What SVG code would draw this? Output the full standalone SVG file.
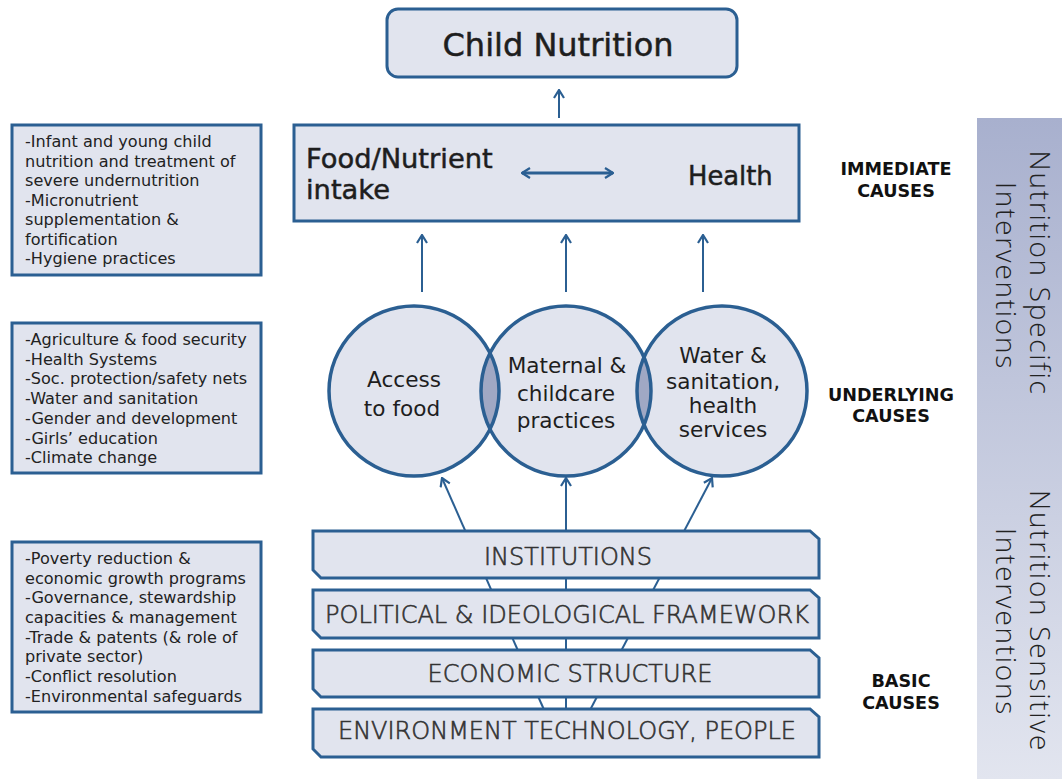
<svg xmlns="http://www.w3.org/2000/svg" width="1062" height="779" viewBox="0 0 1062 779">
<defs>
<style>
.box{fill:#e1e4ee;stroke:#2b5f92;stroke-width:3}
.lens{fill:#a0a8c4;stroke:none}
.circ{fill:none;stroke:#2b5f92;stroke-width:3.5}
.t{font-family:"DejaVu Sans",sans-serif;fill:#1e1e1e;stroke:#1e1e1e;stroke-width:0.5}
.side{font-family:"DejaVu Sans",sans-serif;font-size:16.1px;fill:#222}
.bar{font-family:"DejaVu Sans",sans-serif;font-size:24px;font-weight:200;fill:#333;stroke:#333;stroke-width:0.6;text-anchor:middle}
.ctext{font-family:"DejaVu Sans",sans-serif;font-size:21.6px;fill:#1e1e1e;text-anchor:middle}
.lab{font-family:"DejaVu Sans",sans-serif;font-size:17.6px;font-weight:bold;fill:#111;text-anchor:middle}
.band{font-family:"Open Sans",sans-serif;font-size:28px;font-weight:300;letter-spacing:1.7px;fill:#222;text-anchor:middle}
.conn{stroke:#2b5f92;fill:none}
</style>
<linearGradient id="bandg" x1="0" y1="0" x2="0" y2="1">
<stop offset="0" stop-color="#a8b0ce"/>
<stop offset="1" stop-color="#e2e5ef"/>
</linearGradient>
<marker id="ah" viewBox="0 0 12 12" refX="11" refY="6" markerWidth="12" markerHeight="12" markerUnits="userSpaceOnUse" orient="auto-start-reverse">
<path d="M3 1 L11 6 L3 11" fill="none" stroke="#2b5f92" stroke-width="2.2"/>
</marker>
</defs>

<rect x="977" y="118" width="85" height="661" fill="url(#bandg)"/>
<g id="band-text">
<text class="band" transform="translate(1030,273) rotate(90)">Nutrition Specific</text>
<text class="band" transform="translate(996,276) rotate(90)">Interventions</text>
<text class="band" transform="translate(1030,621) rotate(90)">Nutrition Sensitive</text>
<text class="band" transform="translate(996,622) rotate(90)">Interventions</text>
</g>

<g id="child-nutrition">
<rect class="box" x="387" y="9" width="350" height="68" rx="11"/>
<text class="t" x="558" y="56" font-size="32" text-anchor="middle">Child Nutrition</text>
</g>

<g id="immediate">
<rect class="box" x="294" y="125" width="505" height="96"/>
<text class="t" x="306" y="168" font-size="27.3">Food/Nutrient</text>
<text class="t" x="306" y="199" font-size="27.3">intake</text>
<text class="t" x="688" y="185" font-size="25.8">Health</text>
</g>

<g id="connectors">
<line class="conn" x1="559" y1="118" x2="559" y2="90" stroke-width="2" marker-end="url(#ah)"/>
<line class="conn" x1="522" y1="173" x2="613" y2="173" stroke-width="3" marker-start="url(#ah)" marker-end="url(#ah)"/>
<line class="conn" x1="422" y1="292" x2="422" y2="235" stroke-width="2" marker-end="url(#ah)"/>
<line class="conn" x1="566" y1="292" x2="566" y2="235" stroke-width="2" marker-end="url(#ah)"/>
<line class="conn" x1="703" y1="292" x2="703" y2="235" stroke-width="2" marker-end="url(#ah)"/>
<line class="conn" x1="545" y1="712" x2="442" y2="478" stroke-width="2" marker-end="url(#ah)"/>
<line class="conn" x1="566" y1="712" x2="566" y2="478" stroke-width="2" marker-end="url(#ah)"/>
<line class="conn" x1="589" y1="712" x2="712" y2="478" stroke-width="2" marker-end="url(#ah)"/>
</g>

<g id="circles">
<circle cx="414" cy="391" r="85" fill="#e1e4ee"/>
<circle cx="566" cy="391" r="85" fill="#e1e4ee"/>
<circle cx="722" cy="391" r="85" fill="#e1e4ee"/>
<path class="lens" d="M490 352.9 A85 85 0 0 1 490 429.1 A85 85 0 0 1 490 352.9 Z"/>
<path class="lens" d="M644 357.2 A85 85 0 0 1 644 424.8 A85 85 0 0 1 644 357.2 Z"/>
<circle class="circ" cx="414" cy="391" r="85"/>
<circle class="circ" cx="566" cy="391" r="85"/>
<circle class="circ" cx="722" cy="391" r="85"/>
</g>
<g id="access-food">
<text class="ctext" x="404" y="387">Access</text>
<text class="ctext" x="402" y="416">to food</text>
</g>
<g id="maternal">
<text class="ctext" x="567" y="373">Maternal &amp;</text>
<text class="ctext" x="566" y="401">childcare</text>
<text class="ctext" x="566" y="428">practices</text>
</g>
<g id="water">
<text class="ctext" x="723" y="363">Water &amp;</text>
<text class="ctext" x="723" y="389">sanitation,</text>
<text class="ctext" x="723" y="413">health</text>
<text class="ctext" x="723" y="437">services</text>
</g>

<g id="institutions">
<path class="box" d="M313 531 H810 L819 539 V578 H321 L313 570 Z"/>
<text class="bar" x="568" y="565">INSTITUTIONS</text>
</g>
<g id="political">
<path class="box" d="M313 590 H810 L819 598 V638 H321 L313 630 Z"/>
<text class="bar" x="567" y="623">POLITICAL &amp; IDEOLOGICAL FRAMEWORK</text>
</g>
<g id="economic">
<path class="box" d="M313 650 H810 L819 658 V697 H321 L313 689 Z"/>
<text class="bar" x="570" y="682">ECONOMIC STRUCTURE</text>
</g>
<g id="environment">
<path class="box" d="M313 709 H810 L819 717 V757 H321 L313 749 Z"/>
<text class="bar" x="567" y="739">ENVIRONMENT TECHNOLOGY, PEOPLE</text>
</g>

<g id="labels">
<text class="lab" x="896" y="175">IMMEDIATE</text>
<text class="lab" x="896" y="197">CAUSES</text>
<text class="lab" x="891" y="401">UNDERLYING</text>
<text class="lab" x="891" y="422">CAUSES</text>
<text class="lab" x="901" y="687">BASIC</text>
<text class="lab" x="901" y="709">CAUSES</text>
</g>

<g id="specific-box">
<rect class="box" x="12" y="125" width="249" height="150"/>
<text class="side" x="25" y="147">-Infant and young child</text>
<text class="side" x="25" y="166.5">nutrition and treatment of</text>
<text class="side" x="25" y="186">severe undernutrition</text>
<text class="side" x="25" y="205.5">-Micronutrient</text>
<text class="side" x="25" y="225">supplementation &amp;</text>
<text class="side" x="25" y="244.5">fortification</text>
<text class="side" x="25" y="264">-Hygiene practices</text>
</g>
<g id="underlying-box">
<rect class="box" x="12" y="323" width="249" height="150"/>
<text class="side" x="25" y="345">-Agriculture &amp; food security</text>
<text class="side" x="25" y="364.7">-Health Systems</text>
<text class="side" x="25" y="384.4">-Soc. protection/safety nets</text>
<text class="side" x="25" y="404">-Water and sanitation</text>
<text class="side" x="25" y="423.8">-Gender and development</text>
<text class="side" x="25" y="443.5">-Girls’ education</text>
<text class="side" x="25" y="463">-Climate change</text>
</g>
<g id="basic-box">
<rect class="box" x="12" y="542" width="249" height="170"/>
<text class="side" x="25" y="564">-Poverty reduction &amp;</text>
<text class="side" x="25" y="583.7">economic growth programs</text>
<text class="side" x="25" y="603.4">-Governance, stewardship</text>
<text class="side" x="25" y="623">capacities &amp; management</text>
<text class="side" x="25" y="642.7">-Trade &amp; patents (&amp; role of</text>
<text class="side" x="25" y="662.4">private sector)</text>
<text class="side" x="25" y="682">-Conflict resolution</text>
<text class="side" x="25" y="701.7">-Environmental safeguards</text>
</g>
</svg>
